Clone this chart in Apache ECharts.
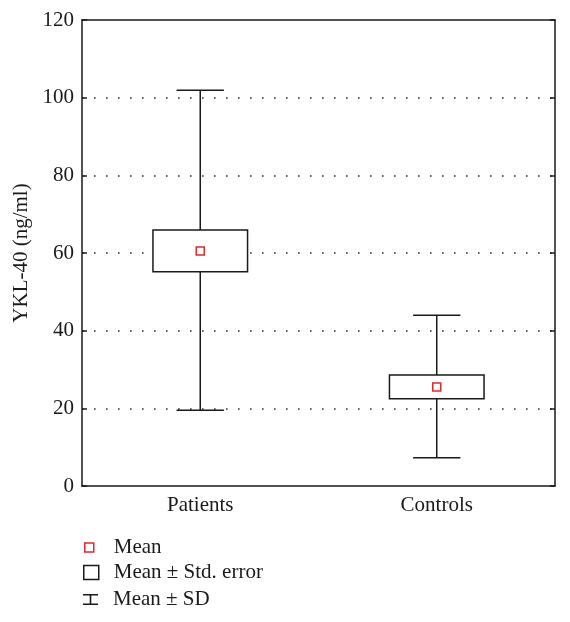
<!DOCTYPE html>
<html><head><meta charset="utf-8">
<script src="https://cdn.jsdelivr.net/npm/echarts@6/dist/echarts.min.js"></script>
<style>html,body{margin:0;padding:0;background:#fff}#c{width:570px;height:622px}</style>
</head><body><div id="c"></div>
<script>
const categories = ['Patients', 'Controls'];
const meanValues = [60.5, 25.5];
const seLow = [55.2, 22.5];
const seHigh = [65.9, 28.6];
const sdLow = [19.5, 7.3];
const sdHigh = [101.9, 44.0];
const yMin = 0, yMax = 120, yStep = 20;
const seriesNames = ['Mean', 'Mean \u00b1 Std. error', 'Mean \u00b1 SD'];

const font = 'Liberation Serif';
const fs = 21;
const ink = '#1a1a1a';
const chart = echarts.init(document.getElementById('c'), null, {renderer: 'canvas'});

const boxData = categories.map((c, i) => [i, seLow[i], seHigh[i]]);
const sdData = categories.map((c, i) => [i, sdLow[i], sdHigh[i]]);
const meanData = categories.map((c, i) => [i, meanValues[i]]);

const axisLineStyle = {color: ink, width: 1.5};

const option = {
  animation: false,
  backgroundColor: '#fff',
  grid: {left: 82, right: 15, top: 20, bottom: 136},
  xAxis: [
    {type: 'category', data: categories, position: 'bottom',
     axisLine: {onZero: false, lineStyle: axisLineStyle},
     axisTick: {inside: true, alignWithLabel: true, length: 5, lineStyle: axisLineStyle},
     axisLabel: {fontFamily: font, fontSize: fs, color: ink, margin: 9}},
    {type: 'category', data: categories, position: 'top',
     axisLine: {onZero: false, lineStyle: axisLineStyle},
     axisTick: {inside: true, alignWithLabel: true, length: 5, lineStyle: axisLineStyle},
     axisLabel: {show: false}}
  ],
  yAxis: [
    {type: 'value', min: yMin, max: yMax, interval: yStep, position: 'left',
     name: 'YKL-40 (ng/ml)', nameLocation: 'middle', nameGap: 50,
     nameTextStyle: {fontFamily: font, fontSize: fs, color: ink},
     axisLine: {show: true, onZero: false, lineStyle: axisLineStyle},
     axisTick: {show: true, inside: true, length: 5, lineStyle: axisLineStyle},
     axisLabel: {fontFamily: font, fontSize: fs, color: ink, margin: 8},
     splitLine: {show: true, showMinLine: false, showMaxLine: false,
                 lineStyle: {color: '#333', width: 1.6, type: [1.6, 10.4]}}},
    {type: 'value', min: yMin, max: yMax, interval: yStep, position: 'right',
     axisLine: {show: true, onZero: false, lineStyle: axisLineStyle},
     axisTick: {show: true, inside: true, length: 5, lineStyle: axisLineStyle},
     axisLabel: {show: false}, splitLine: {show: false}}
  ],
  legend: [
    {left: 84, top: 537, padding: 0, itemWidth: 9, itemHeight: 9,
     data: [{name: seriesNames[0], icon: 'rect', itemStyle: {color: '#fff', borderColor: '#e0282f', borderWidth: 1.5}}],
     textStyle: {fontFamily: font, fontSize: fs, color: ink, lineHeight: 20, padding: [0, 0, 0, 15]}},
    {left: 83, top: 562, padding: 0, itemWidth: 15, itemHeight: 14,
     data: [{name: seriesNames[1], icon: 'rect', itemStyle: {color: '#fff', borderColor: ink, borderWidth: 1.5}}],
     textStyle: {fontFamily: font, fontSize: fs, color: ink, lineHeight: 20, padding: [0, 0, 0, 10]}},
    {left: 83, top: 589, padding: 0, itemWidth: 15, itemHeight: 11,
     data: [{name: seriesNames[2], icon: 'path://M0,0H15V1.6H8.3V9.4H15V11H0V9.4H6.7V1.6H0Z', itemStyle: {color: ink, borderWidth: 0}}],
     textStyle: {fontFamily: font, fontSize: fs, color: ink, lineHeight: 20, padding: [0, 0, 0, 10]}}
  ],
  series: [
    {name: seriesNames[2], type: 'custom', data: sdData, z: 2,
     itemStyle: {color: ink},
     renderItem: function (params, api) {
       const x = api.value(0);
       const lo = api.coord([x, api.value(1)]);
       const hi = api.coord([x, api.value(2)]);
       const hw = api.size([1, 0])[0] * 0.1;
       const st = {stroke: ink, lineWidth: 1.5, fill: null};
       return {type: 'group', children: [
         {type: 'line', shape: {x1: lo[0], y1: lo[1], x2: hi[0], y2: hi[1]}, style: st},
         {type: 'line', shape: {x1: lo[0] - hw, y1: lo[1], x2: lo[0] + hw, y2: lo[1]}, style: st},
         {type: 'line', shape: {x1: hi[0] - hw, y1: hi[1], x2: hi[0] + hw, y2: hi[1]}, style: st}
       ]};
     }},
    {name: seriesNames[1], type: 'custom', data: boxData, z: 3,
     itemStyle: {color: '#fff', borderColor: ink},
     renderItem: function (params, api) {
       const x = api.value(0);
       const lo = api.coord([x, api.value(1)]);
       const hi = api.coord([x, api.value(2)]);
       const hw = api.size([1, 0])[0] * 0.2;
       return {type: 'rect', shape: {x: lo[0] - hw, y: hi[1], width: hw * 2, height: lo[1] - hi[1]},
               style: {fill: '#fff', stroke: ink, lineWidth: 1.5}};
     }},
    {name: seriesNames[0], type: 'scatter', data: meanData, z: 4,
     symbol: 'rect', symbolSize: 8,
     itemStyle: {color: '#fff', borderColor: '#e0282f', borderWidth: 1.5, opacity: 1}}
  ]
};
chart.setOption(option);
</script>
</body></html>
